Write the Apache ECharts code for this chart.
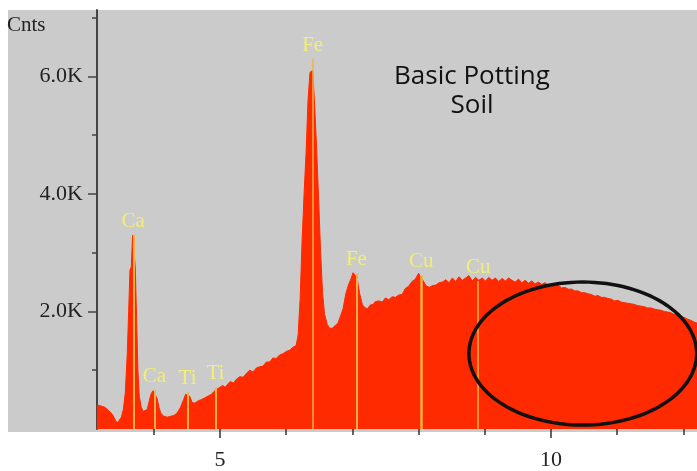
<!DOCTYPE html>
<html><head><meta charset="utf-8">
<script src="https://cdn.jsdelivr.net/npm/echarts@6/dist/echarts.min.js"></script>
<style>html,body{margin:0;padding:0;background:#fff}#c{width:697px;height:471px}</style>
</head><body><div id="c"></div>
<script>
// Spectrum (keV, counts)
const energies = [3.14,3.18,3.22,3.26,3.30,3.34,3.38,3.42,3.45,3.48,3.51,3.54,3.57,3.60,3.62,3.64,3.66,3.68,3.70,3.72,3.74,3.76,3.78,3.81,3.84,3.87,3.90,3.93,3.96,3.99,4.02,4.05,4.08,4.11,4.15,4.20,4.25,4.30,4.35,4.40,4.45,4.48,4.51,4.54,4.58,4.62,4.67,4.72,4.77,4.82,4.87,4.91,4.94,4.97,5.00,5.04,5.08,5.12,5.16,5.20,5.25,5.30,5.35,5.40,5.45,5.50,5.55,5.60,5.65,5.70,5.75,5.80,5.85,5.90,5.95,6.00,6.05,6.10,6.15,6.18,6.21,6.24,6.27,6.30,6.33,6.36,6.40,6.43,6.46,6.49,6.52,6.55,6.58,6.62,6.66,6.70,6.74,6.78,6.82,6.86,6.90,6.94,6.98,7.01,7.04,7.07,7.11,7.15,7.19,7.23,7.27,7.31,7.35,7.40,7.45,7.50,7.55,7.60,7.65,7.70,7.75,7.80,7.85,7.90,7.95,8.00,8.03,8.07,8.11,8.16,8.21,8.26,8.31,8.36,8.41,8.46,8.51,8.56,8.61,8.66,8.71,8.76,8.81,8.86,8.91,8.96,9.01,9.06,9.11,9.16,9.21,9.26,9.31,9.36,9.41,9.46,9.51,9.56,9.61,9.66,9.71,9.76,9.81,9.86,9.91,9.96,10.01,10.06,10.11,10.16,10.21,10.26,10.31,10.36,10.41,10.46,10.51,10.56,10.61,10.66,10.71,10.76,10.81,10.86,10.91,10.96,11.01,11.06,11.11,11.16,11.21,11.26,11.31,11.36,11.41,11.46,11.51,11.56,11.61,11.66,11.71,11.76,11.81,11.86,11.91,11.96,12.01,12.06,12.11,12.16,12.21];
const counts = [410,400,385,370,330,290,240,150,105,110,200,330,620,1300,2000,2700,2760,3300,3300,2750,1900,1000,560,370,300,290,330,470,600,650,640,520,360,260,220,200,215,230,270,360,500,590,610,560,450,440,480,500,530,560,590,640,660,690,700,740,710,770,810,780,850,890,880,950,1000,970,1040,1060,1070,1140,1140,1210,1200,1260,1280,1320,1340,1390,1420,1600,2200,3200,4000,4700,5600,6070,6100,5500,4760,3900,3000,2300,1950,1780,1710,1720,1760,1800,1920,2050,2300,2450,2560,2660,2640,2570,2300,2120,2060,2050,2110,2120,2170,2180,2160,2230,2200,2250,2240,2280,2290,2390,2430,2510,2550,2650,2620,2520,2440,2410,2440,2450,2490,2500,2540,2490,2570,2510,2590,2530,2570,2610,2520,2580,2530,2570,2520,2580,2530,2570,2510,2560,2520,2570,2530,2500,2550,2490,2530,2480,2520,2470,2500,2460,2490,2440,2470,2420,2450,2400,2410,2380,2380,2350,2350,2320,2320,2300,2290,2260,2270,2240,2240,2220,2210,2180,2190,2160,2150,2140,2130,2120,2100,2090,2080,2060,2060,2040,2030,2020,2000,1990,1980,1950,1940,1910,1900,1870,1850,1820,1800,1780,1760];

// Element marker lines
const peakEnergies = [3.69,4.01,4.51,4.93,6.40,7.06,8.04,8.90];
const peakHeights  = [3310,660,625,710,6300,2650,2620,2520];
const peakLabels   = ['Ca','Ca','Ti','Ti','Fe','Fe','Cu','Cu'];
const peakWidths   = [2,2,2,2,1.5,2,2.5,1.5];

// Axis ticks
const yTickValues = [2000,4000,6000];
const yMinorTicks = [1000,3000,5000,7000];
const xTickValues = [5,10];
const xMinorTicks = [4,6,7,8,9,11,12];

// Highlight ellipse (data coordinates: center keV/counts, radii keV/counts)
const ellipseCenter = [10.48,1284];
const ellipseRadius = [1.72,1217];

const X_MIN = 3.142, X_MAX = 12.205, Y_MAX = 7130;

const chart = echarts.init(document.getElementById('c'), null, {renderer:'canvas'});
const spectrum = energies.map((e,i)=>[e,counts[i]]);
const markData = peakEnergies.map((e,i)=>[
  {coord:[e,0], lineStyle:{width:peakWidths[i]}, label:{formatter:peakLabels[i]}},
  {coord:[e,peakHeights[i]]}
]);
const serif = '"Liberation Serif","Times New Roman",serif';

const baseGraphic = [
  {id:'bg', type:'rect', z:-10, silent:true, shape:{x:8,y:10,width:689,height:422}, style:{fill:'#cbcbcb'}},
  {id:'cnts', type:'text', z:10, x:7, y:15, style:{text:'Cnts', font:'21px '+serif, fill:'#222', textAlign:'left', textVerticalAlign:'top', align:'left', verticalAlign:'top'}},
  {id:'ttl', type:'text', z:10, x:472, y:62, style:{text:'Basic Potting\nSoil', font:'26px "Open Sans"', lineHeight:29, fill:'#111', textAlign:'center', textVerticalAlign:'top', align:'center', verticalAlign:'top'}}
];

chart.setOption({
  animation:false,
  backgroundColor:'#ffffff',
  grid:{left:97, right:0, top:10, bottom:39},
  xAxis:[
    {type:'value', min:X_MIN, max:X_MAX, axisLine:{show:false},
     axisTick:{show:true, customValues:xTickValues, length:9, lineStyle:{color:'#333', width:1.5}},
     axisLabel:{customValues:xTickValues, fontFamily:serif, fontSize:22, color:'#222', margin:20},
     splitLine:{show:false}},
    {type:'value', min:X_MIN, max:X_MAX, position:'bottom', axisLine:{show:false},
     axisTick:{show:true, customValues:xMinorTicks, length:6, lineStyle:{color:'#333', width:1.5}},
     axisLabel:{show:false}, splitLine:{show:false}}
  ],
  yAxis:[
    {type:'value', min:0, max:Y_MAX, position:'left',
     axisLine:{show:true, lineStyle:{color:'#444', width:2}},
     axisTick:{show:true, customValues:yTickValues, length:9, lineStyle:{color:'#444', width:1.5}},
     axisLabel:{customValues:yTickValues, formatter:v=>(v/1000).toFixed(1)+'K', fontFamily:serif, fontSize:22, color:'#222', margin:14},
     splitLine:{show:false}},
    {type:'value', min:0, max:Y_MAX, position:'left', axisLine:{show:false},
     axisTick:{show:true, customValues:yMinorTicks, length:5, lineStyle:{color:'#444', width:1.5}},
     axisLabel:{show:false}, splitLine:{show:false}}
  ],
  series:[{
    type:'line', xAxisIndex:0, yAxisIndex:0, data:spectrum, showSymbol:false, symbol:'none',
    lineStyle:{color:'#ff2a00', width:1}, areaStyle:{color:'#ff2a00', opacity:1},
    markLine:{silent:true, symbol:['none','none'], animation:false,
      lineStyle:{color:'#f5b040', type:'solid', width:2},
      label:{show:true, position:'end', distance:3, color:'#f2ee78', fontFamily:serif, fontSize:21},
      data:markData}
  }],
  graphic:baseGraphic
});

const c = chart.convertToPixel({xAxisIndex:0, yAxisIndex:0}, ellipseCenter);
const p = chart.convertToPixel({xAxisIndex:0, yAxisIndex:0}, [ellipseCenter[0]+ellipseRadius[0], ellipseCenter[1]+ellipseRadius[1]]);
const rx = p[0]-c[0], ry = c[1]-p[1];
const pts = [];
for (let k=0;k<120;k++){const t=k/120*Math.PI*2; pts.push([c[0]+rx*Math.cos(t), c[1]+ry*Math.sin(t)]);}
chart.setOption({graphic:[{id:'ell', type:'polygon', z:50, silent:true, shape:{points:pts}, style:{fill:'none', stroke:'#111', lineWidth:3.5}}]});
</script></body></html>
